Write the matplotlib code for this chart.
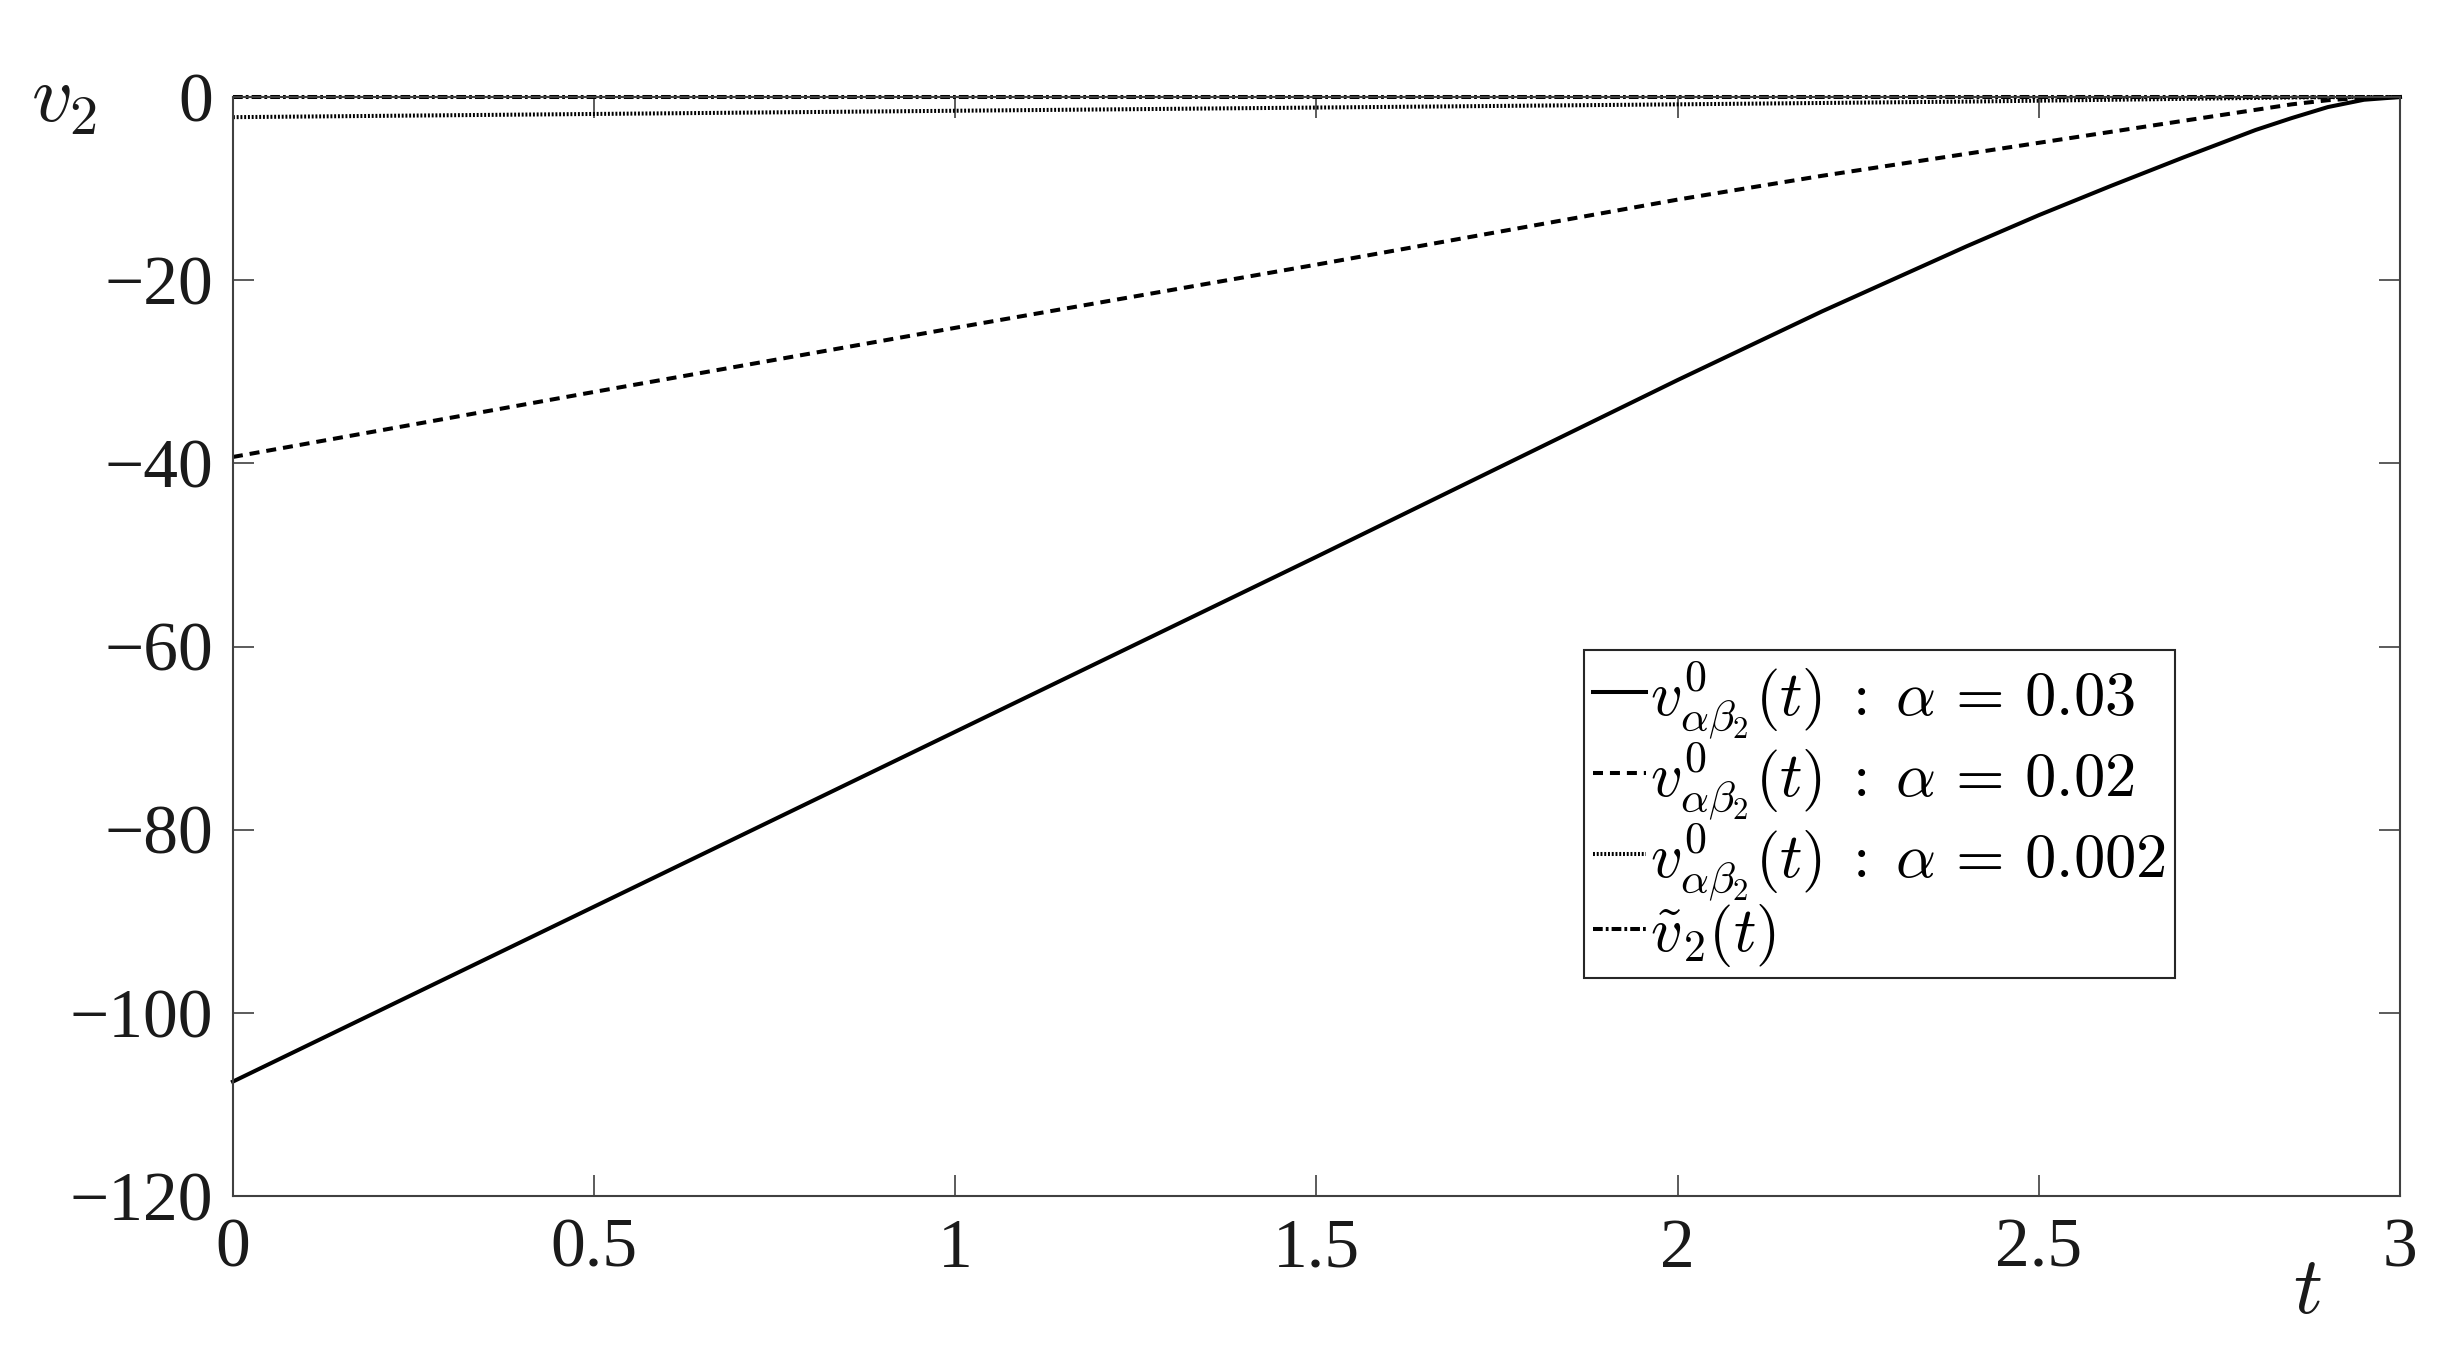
import matplotlib
matplotlib.use("Agg")
import matplotlib.pyplot as plt

# -----------------------------
# Data
# -----------------------------
t = [0, 0.5, 1, 1.5, 2, 2.2, 2.4, 2.5, 2.6, 2.7, 2.8, 2.85, 2.9, 2.95, 3.0]

v_a003 = [-107.5, -88.4, -69.3, -50.2, -30.9, -23.4, -16.3, -12.9, -9.7,
          -6.6, -3.6, -2.3, -1.1, -0.3, 0.0]
v_a002 = [-39.3, -32.2, -25.2, -18.3, -11.2, -8.6, -6.2, -5.0, -3.8,
          -2.6, -1.4, -0.8, -0.35, -0.08, 0.0]
v_a0002 = [-2.2, -1.85, -1.5, -1.15, -0.8, -0.65, -0.5, -0.4, -0.3,
           -0.2, -0.1, -0.05, -0.02, 0.0, 0.0]
v_tilde = [0, 0, 0, 0, 0, 0, 0, 0, 0, 0, 0, 0, 0, 0, 0]

labels = [
    r"$v^{0}_{\alpha\beta_2}(t)\;:\;\alpha\,=\,0.03$",
    r"$v^{0}_{\alpha\beta_2}(t)\;:\;\alpha\,=\,0.02$",
    r"$v^{0}_{\alpha\beta_2}(t)\;:\;\alpha\,=\,0.002$",
    r"$\tilde{v}_2(t)$",
]

xticks = [0, 0.5, 1, 1.5, 2, 2.5, 3]
xtick_labels = ["0", "0.5", "1", "1.5", "2", "2.5", "3"]
yticks = [-120, -100, -80, -60, -40, -20, 0]
ytick_labels = ["\u2212120", "\u2212100", "\u221280", "\u221260", "\u221240", "\u221220", "0"]

# -----------------------------
# Style
# -----------------------------
plt.rcParams["font.family"] = ["Liberation Serif", "DejaVu Serif"]
plt.rcParams["mathtext.fontset"] = "cm"
plt.rcParams["lines.scale_dashes"] = False

axis_color = "#404040"
text_color = "#1a1a1a"

fig = plt.figure(figsize=(24.52, 13.55), dpi=100)
ax = fig.add_axes([0.0950, 0.1173, 0.8838, 0.8111])

lw = 2.9
ax.plot(t, v_a003, color="black", lw=lw, linestyle="-", label=labels[0])
ax.plot(t, v_a002, color="black", lw=lw, linestyle=(0, (7.2, 5.0)), label=labels[1])
ax.plot(t, v_a0002, color="black", lw=lw, linestyle=(0, (1.4, 1.3)), label=labels[2])
ax.plot(t, v_tilde, color="black", lw=lw, linestyle=(0, (7.0, 2.2, 2.0, 2.2)), label=labels[3])

ax.set_xlim(0, 3)
ax.set_ylim(-120, 0)
ax.set_xticks(xticks)
ax.set_xticklabels(xtick_labels)
ax.set_yticks(yticks)
ax.set_yticklabels(ytick_labels)

ax.tick_params(direction="in", length=15, width=1.2, colors=axis_color,
               labelcolor=text_color, labelsize=50, top=True, right=True)
ax.tick_params(axis="x", pad=16)
ax.tick_params(axis="y", pad=14)
for sp in ax.spines.values():
    sp.set_color(axis_color)
    sp.set_linewidth(1.5)

# lines reach the frame, keep them whole
for ln in ax.lines:
    ln.set_clip_on(False)

# -----------------------------
# Axis labels
# -----------------------------
ax.set_xlabel(r"$t$", fontsize=58, color=text_color)
ax.xaxis.set_label_coords(0.957, -0.055)
ax.set_ylabel(r"$v_2$", fontsize=58, color=text_color, rotation=0)
ax.yaxis.set_label_coords(-0.078, 0.962)

# -----------------------------
# Legend
# -----------------------------
leg = ax.legend(loc="lower right", bbox_to_anchor=(0.896, 0.198),
                fontsize=45, handlelength=0.85, handletextpad=0.05,
                borderpad=0.15, borderaxespad=0, labelspacing=0.0,
                fancybox=False, framealpha=1, edgecolor="#262626")
leg.get_frame().set_linewidth(1.5)

fig.savefig("out.png", dpi=100)
